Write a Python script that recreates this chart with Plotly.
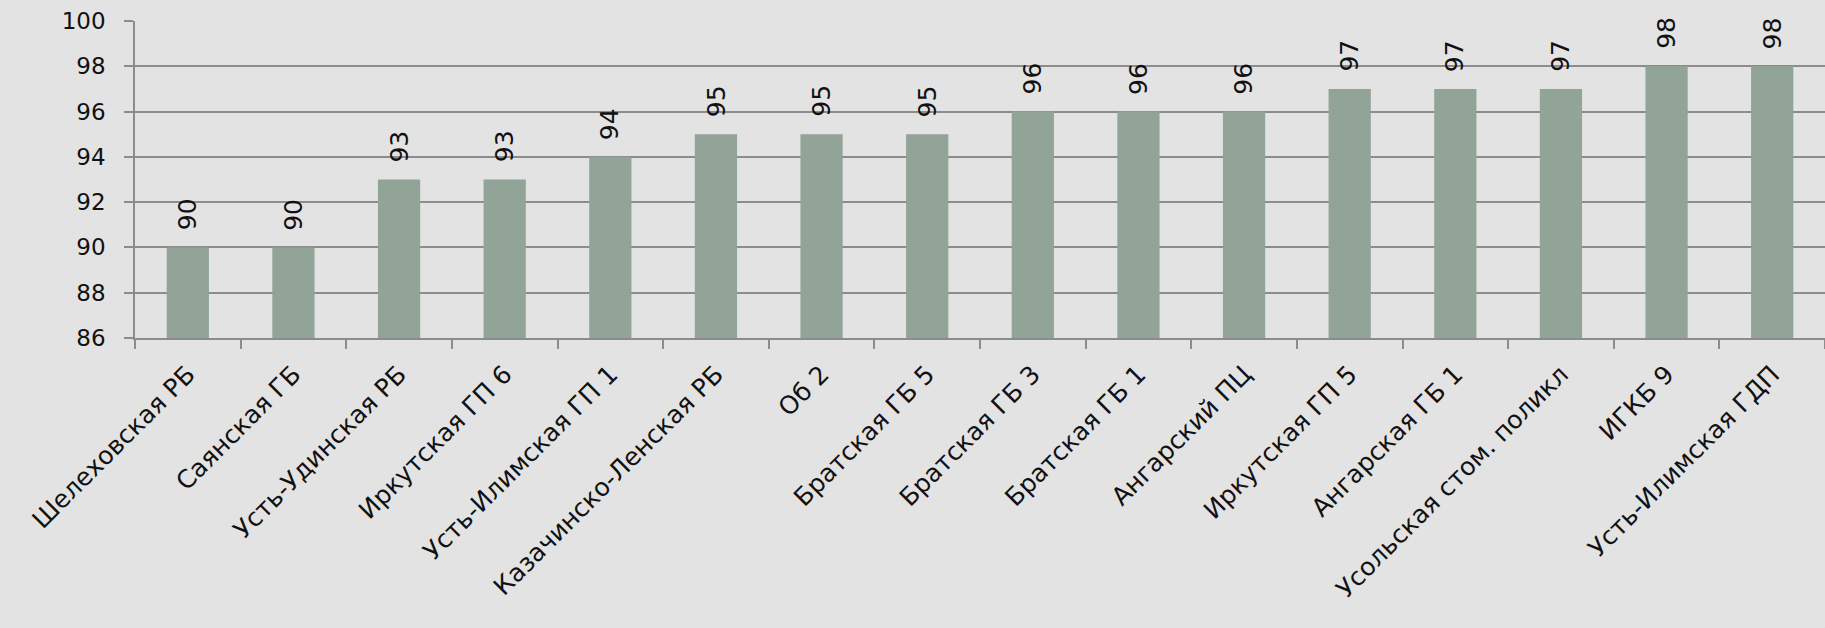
import plotly.graph_objects as go

categories = [
    "Шелеховская РБ", "Саянская ГБ", "Усть-Удинская РБ", "Иркутская ГП 6",
    "Усть-Илимская ГП 1", "Казачинско-Ленская РБ", "Об 2", "Братская ГБ 5",
    "Братская ГБ 3", "Братская ГБ 1", "Ангарский ПЦ", "Иркутская ГП 5",
    "Ангарская ГБ 1", "Усольская стом. поликл", "ИГКБ 9", "Усть-Илимская ГДП",
]
values = [90, 90, 93, 93, 94, 95, 95, 95, 96, 96, 96, 97, 97, 97, 98, 98]
y_ticks = [86, 88, 90, 92, 94, 96, 98, 100]
BASE = 86

FONT = "DejaVu Sans"
BAR = "#92a398"
GRID = "#8c8c8c"
BG = "#e3e3e3"

fig = go.Figure()
fig.add_trace(go.Bar(
    x=categories, y=[v - BASE for v in values], base=BASE,
    marker=dict(color=BAR, line=dict(width=0)), hoverinfo="skip",
))

for c, v in zip(categories, values):
    fig.add_annotation(
        x=c, y=v, xref="x", yref="y", text=str(v), showarrow=False,
        textangle=-90, yanchor="bottom", xanchor="center", yshift=15,
        font=dict(family=FONT, size=25, color="#111111"),
    )

fig.update_layout(
    width=1825, height=628,
    paper_bgcolor=BG, plot_bgcolor=BG,
    margin=dict(l=135, r=0, t=21, b=290),
    bargap=0.6, showlegend=False,
    font=dict(family=FONT, color="#111111"),
)
fig.update_xaxes(
    type="category", tickangle=-45, tickson="boundaries",
    ticks="outside", ticklen=9, tickcolor=GRID, tickwidth=1.5,
    showline=True, linecolor=GRID, linewidth=1.5,
    showgrid=False, tickfont=dict(family=FONT, size=25, color="#111111"),
    ticklabelstandoff=10,
)
fig.update_yaxes(
    range=[86, 100], tickvals=y_ticks, ticktext=[str(t) for t in y_ticks],
    showgrid=True, gridcolor=GRID, gridwidth=1.5,
    ticks="outside", ticklen=9, tickcolor=GRID, tickwidth=1.5,
    showline=True, linecolor=GRID, linewidth=1.5, zeroline=False,
    tickfont=dict(family=FONT, size=23, color="#111111"),
    ticklabelstandoff=14,
)
fig.write_html(
    "out.html",
    config={"displayModeBar": False},
    post_script="document.body.style.margin='0';document.body.style.background='%s';" % BG,
)
